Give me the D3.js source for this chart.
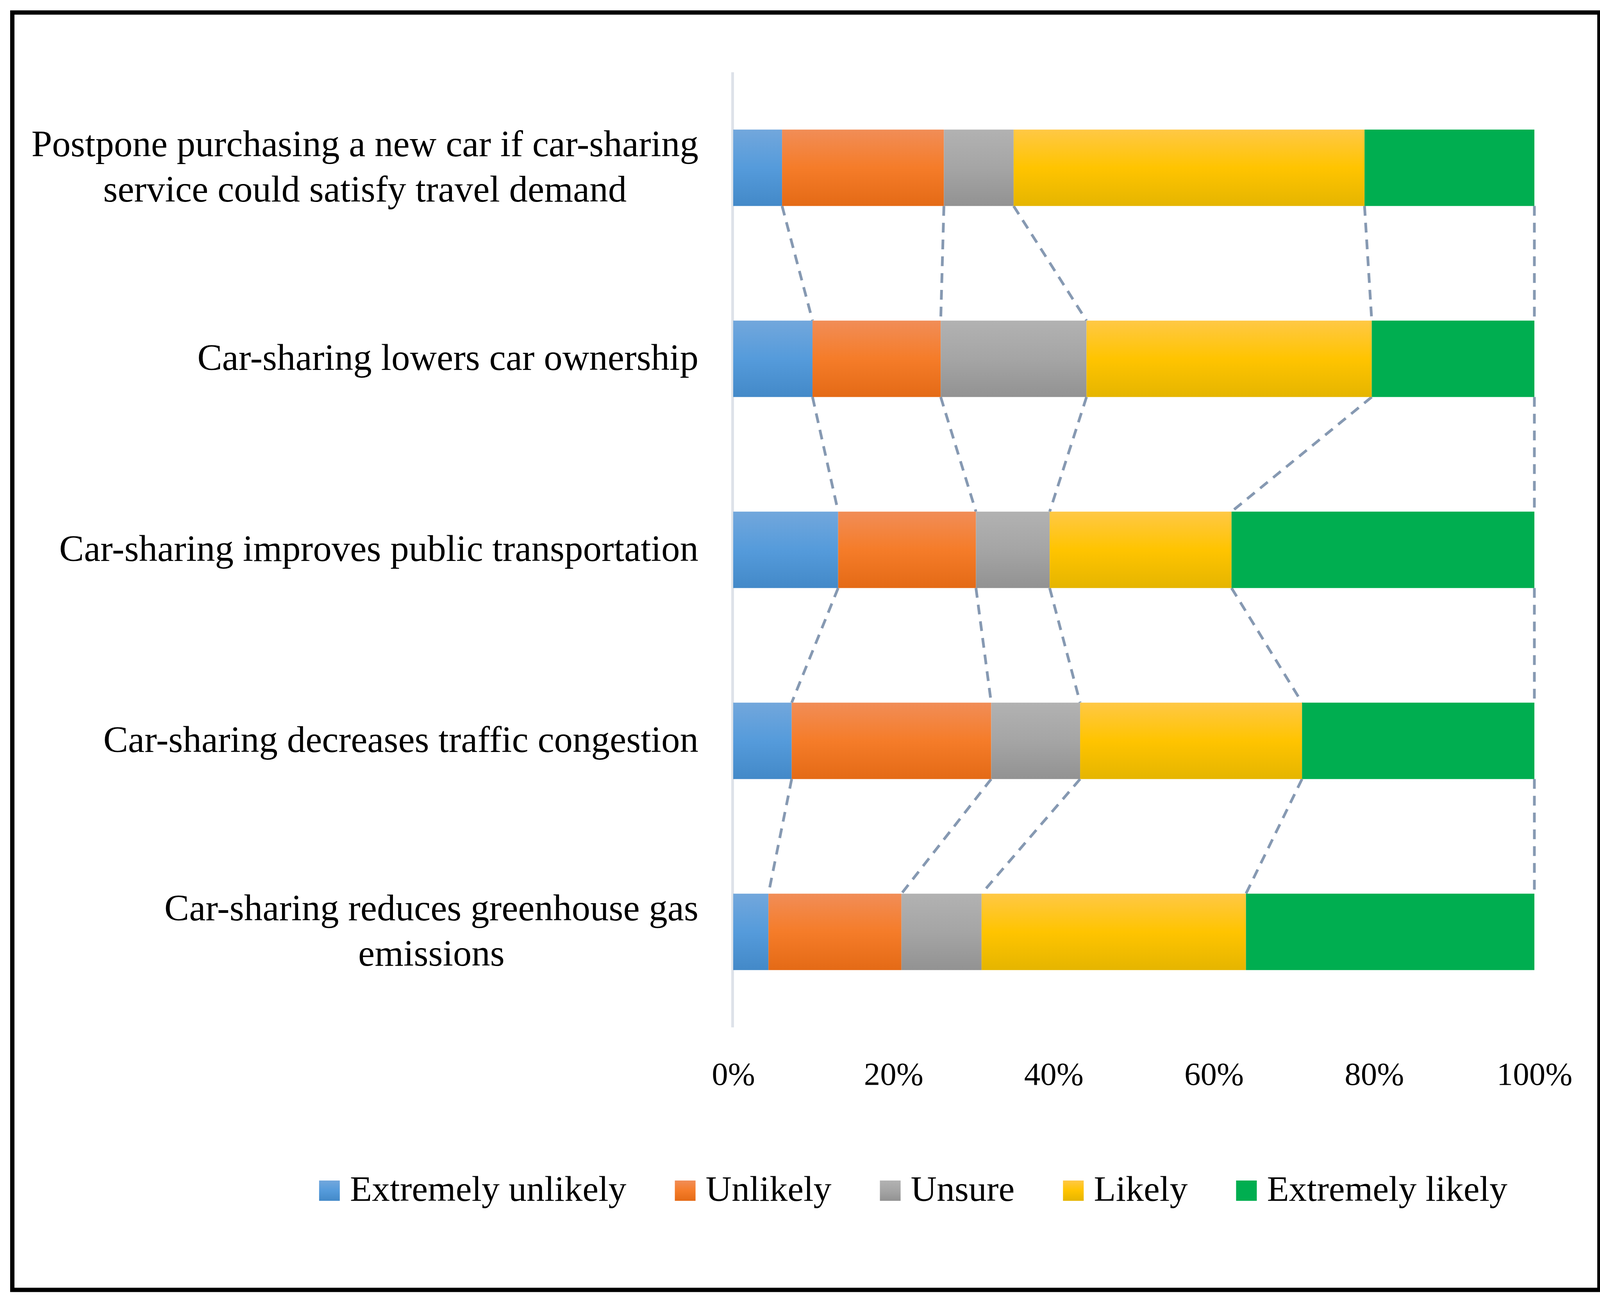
<!DOCTYPE html>
<html>
<head>
<meta charset="utf-8">
<script src="https://cdn.jsdelivr.net/npm/d3@7"></script>
<style>
  body { margin: 0; background: #fff; }
  text { font-family: "Liberation Serif", "DejaVu Serif", serif; fill: #000; }
</style>
</head>
<body>
<svg id="chart" width="4135" height="3333"></svg>
<script>
// categories, top to bottom; each one split into its printed lines
const categories = [
  "Postpone purchasing a new car if car-sharing service could satisfy travel demand",
  "Car-sharing lowers car ownership",
  "Car-sharing improves public transportation",
  "Car-sharing decreases traffic congestion",
  "Car-sharing reduces greenhouse gas emissions"
];
const categoryLines = [
  ["Postpone purchasing a new car if car-sharing", "service could satisfy travel demand"],
  ["Car-sharing lowers car ownership"],
  ["Car-sharing improves public transportation"],
  ["Car-sharing decreases traffic congestion"],
  ["Car-sharing reduces greenhouse gas", "emissions"]
];

const seriesNames = ["Extremely unlikely", "Unlikely", "Unsure", "Likely", "Extremely likely"];

// shares in %
const extremelyUnlikely = [6.1, 9.9, 13.1, 7.3, 4.4];
const unlikely          = [20.2, 16.0, 17.2, 24.9, 16.6];
const unsure            = [8.7, 18.2, 9.2, 11.1, 10.0];
const likely            = [43.8, 35.6, 22.7, 27.7, 33.0];
const extremelyLikely   = [21.2, 20.3, 37.8, 29.0, 36.0];

const tickValues = [0, 0.2, 0.4, 0.6, 0.8, 1];

const W = 4135, H = 3333;
const svg = d3.select("#chart");

svg.append("rect").attr("width", W).attr("height", H).attr("fill", "#fff");

// gradients for the stacked segments (top light -> bottom dark)
const gradStops = [
  ["#72a7dc", "#559bdb", "#4389c8"],
  ["#f18d57", "#f57c29", "#e46a16"],
  ["#b2b2b2", "#a5a5a5", "#929292"],
  ["#ffc845", "#ffc400", "#e5b500"],
  ["#00ae50", "#00ae50", "#00ae50"]
];
const defs = svg.append("defs");
gradStops.forEach((s, i) => {
  const g = defs.append("linearGradient")
    .attr("id", "grad" + i)
    .attr("x1", 0).attr("y1", 0).attr("x2", 0).attr("y2", 1);
  g.append("stop").attr("offset", "0%").attr("stop-color", s[0]);
  g.append("stop").attr("offset", "50%").attr("stop-color", s[1]);
  g.append("stop").attr("offset", "100%").attr("stop-color", s[2]);
});

// rows for the stack
const rows = categories.map((c, i) => ({
  cat: c,
  "Extremely unlikely": extremelyUnlikely[i],
  "Unlikely": unlikely[i],
  "Unsure": unsure[i],
  "Likely": likely[i],
  "Extremely likely": extremelyLikely[i]
}));

const stacked = d3.stack().keys(seriesNames).offset(d3.stackOffsetExpand)(rows);

const x = d3.scaleLinear().domain([0, 1]).range([1877, 3928]);
const y = d3.scaleBand().domain(categories).range([185, 2630])
  .paddingInner(0.6).paddingOuter(0.3);

// vertical category axis line
svg.append("line")
  .attr("x1", x(0) - 1.5).attr("x2", x(0) - 1.5)
  .attr("y1", y.range()[0]).attr("y2", y.range()[1])
  .attr("stroke", "#dde2e9")
  .attr("stroke-width", 7);

// series lines between bars (dashed)
const seriesLineG = svg.append("g");
for (let k = 0; k < stacked.length; k++) {
  for (let i = 0; i < categories.length - 1; i++) {
    seriesLineG.append("line")
      .attr("x1", x(stacked[k][i][1]))
      .attr("y1", y(categories[i]) + y.bandwidth())
      .attr("x2", x(stacked[k][i + 1][1]))
      .attr("y2", y(categories[i + 1]))
      .attr("stroke", "#8699b2")
      .attr("stroke-width", 7)
      .attr("stroke-dasharray", "25,18");
  }
}

// bars
svg.append("g")
  .selectAll("g")
  .data(stacked)
  .join("g")
  .attr("fill", (d, i) => `url(#grad${i})`)
  .selectAll("rect")
  .data(d => d)
  .join("rect")
  .attr("x", d => x(d[0]))
  .attr("y", d => y(d.data.cat))
  .attr("width", d => x(d[1]) - x(d[0]))
  .attr("height", y.bandwidth());

// category labels, right aligned block, lines centred on each other
const labelRight = 1788, lineH = 116, fsLabel = 95, fsTick = 83, fsLegend = 92;
categoryLines.forEach((lines, i) => {
  const cy = y(categories[i]) + y.bandwidth() / 2;
  const t = svg.append("g");
  const texts = lines.map((ln, j) =>
    t.append("text")
      .attr("font-size", fsLabel)
      .attr("y", cy + 28 + (j - (lines.length - 1) / 2) * lineH)
      .attr("text-anchor", "middle")
      .text(ln));
  const maxW = d3.max(texts, s => s.node().getComputedTextLength());
  texts.forEach(s => s.attr("x", labelRight - maxW / 2));
});

// value axis labels
const xAxis = d3.axisBottom(x)
  .tickValues(tickValues)
  .tickFormat(d3.format(".0%"))
  .tickSize(0);
const ax = svg.append("g")
  .attr("transform", "translate(0,2777)")
  .call(xAxis);
ax.select(".domain").remove();
ax.attr("font-family", null).attr("font-size", null);
ax.selectAll("text")
  .attr("y", 0).attr("dy", null)
  .attr("font-size", fsTick)
  .attr("fill", "#000");

// legend
const legend = svg.append("g");
let lx = 0;
seriesNames.forEach((name, i) => {
  const g = legend.append("g");
  g.append("rect")
    .attr("x", 0).attr("y", -52)
    .attr("width", 53).attr("height", 52)
    .attr("fill", `url(#grad${i})`);
  const t = g.append("text")
    .attr("x", 79).attr("y", 0)
    .attr("font-size", fsLegend)
    .text(name);
  const w = t.node().getComputedTextLength();
  g.attr("transform", `translate(${lx},0)`);
  lx += 79 + w + 124;
});
const legendW = lx - 124;
legend.attr("transform", `translate(${2338 - legendW / 2},3074)`);

// outer frame
svg.append("rect")
  .attr("x", 31.5).attr("y", 32)
  .attr("width", 4063).attr("height", 3270)
  .attr("fill", "none")
  .attr("stroke", "#000")
  .attr("stroke-width", 11);
</script>
</body>
</html>
